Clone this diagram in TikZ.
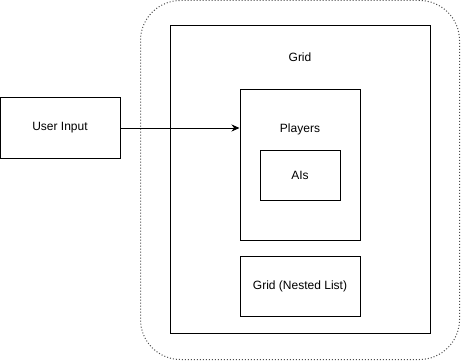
\documentclass[tikz,border=0pt]{standalone}
\usepackage{fontspec}
\setmainfont{Liberation Sans}
\usetikzlibrary{arrows.meta,positioning}
\tikzstyle{blockbox} = [draw=black, fill=white, line width=1pt, rectangle, inner sep=0pt, font=\fontsize{12}{14}\selectfont]
\tikzstyle{zonebox} = [draw=black!70, line width=1pt, dash pattern=on 1pt off 2pt, rectangle, rounded corners=40pt, inner sep=0pt]
\tikzstyle{boxtitle} = [font=\fontsize{12}{14}\selectfont, inner sep=0pt]
\tikzstyle{flow} = [draw=black, line width=1pt, -{Stealth[length=8pt,width=7pt]}]

\begin{document}
\begin{tikzpicture}[x=1pt, y=-1pt]
\useasboundingbox (0,0) rectangle (461,361);
% dotted zone around the grid
\node [zonebox, minimum width=319pt, minimum height=359pt] (zone) at (300,180) {};
\node [blockbox, minimum width=260pt, minimum height=307pt] (grid) at (300,179.5) {};
\node [boxtitle] (gridtitle) at (300,57) {Grid};
\node [blockbox, minimum width=120pt, minimum height=150pt] (players) at (300,165) {};
\node [boxtitle] (playerstitle) at (300,129) {Players};
\node [blockbox, minimum width=80pt, minimum height=50pt] (ais) at (300,175) {AIs};
\node [blockbox, minimum width=120pt, minimum height=60pt] (nested) at (300,286) {Grid (Nested List)};
\node [blockbox, minimum width=120pt, minimum height=60pt] (input) at (60,128) {User Input};
\draw [flow] (input.east) -- (players.west |- input.east);
\end{tikzpicture}
\end{document}
